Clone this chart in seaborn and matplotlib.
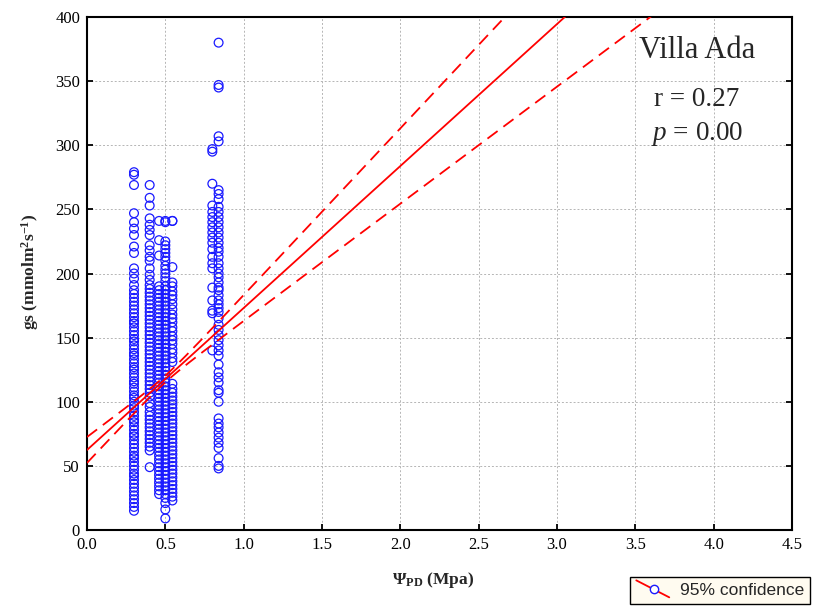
import numpy as np
import pandas as pd
import matplotlib
matplotlib.use("Agg")
import matplotlib.pyplot as plt
import seaborn as sns
from matplotlib.lines import Line2D
from matplotlib.legend_handler import HandlerBase

# Pre-dawn water potential groups (MPa) and stomatal conductance readings
psi_030 = [279, 277, 269, 247, 240, 235, 230, 221, 216, 204, 200, 196, 191, 187, 184,
           181, 178, 175, 172, 169, 166, 163, 161, 158, 155, 152, 149, 147, 144, 141,
           138, 136, 133, 130, 127, 125, 122, 119, 116, 114, 111, 108, 105, 103, 100,
           97, 95, 92, 89, 86, 84, 81, 78, 75, 73, 70, 67, 64, 61, 58, 56, 53, 50, 47,
           44, 42, 39, 36, 33, 30, 27, 24, 21, 18, 15]
psi_040 = [269, 259, 253, 243, 238, 234, 230, 222, 218, 213, 210, 204, 199, 195, 191,
           188, 185, 182, 179, 176, 173, 170, 167, 164, 161, 158, 155, 152, 149, 146,
           143, 140, 137, 134, 131, 128, 125, 122, 119, 116, 113, 110, 107, 104, 99,
           96, 92, 89, 86, 83, 80, 77, 74, 71, 68, 65, 62, 49]
psi_046 = [241, 226, 214, 190, 187, 184, 181, 178, 175, 172, 169, 166, 163, 160, 157,
           154, 151, 148, 145, 142, 139, 136, 133, 130, 127, 124, 121, 118, 115, 112,
           109, 106, 103, 100, 97, 94, 91, 88, 85, 82, 79, 76, 73, 70, 67, 64, 61, 58,
           55, 52, 49, 46, 43, 40, 37, 34, 31, 28]
psi_050 = [241, 240, 225, 222, 219, 216, 213, 210, 206, 203, 200, 197, 194, 190, 187,
           184, 181, 178, 175, 172, 169, 166, 163, 160, 157, 154, 151, 148, 145, 142,
           139, 136, 133, 130, 127, 124, 121, 118, 115, 112, 109, 106, 103, 100, 97, 94,
           91, 88, 85, 82, 79, 76, 73, 70, 67, 64, 61, 58, 55, 52, 49, 46, 43, 40, 37,
           34, 31, 28, 25, 21, 16, 9]
psi_055 = [241, 241, 205, 193, 190, 186, 183, 180, 176, 172, 168, 165, 162, 158, 155,
           151, 148, 145, 141, 138, 134, 131, 114, 110, 107, 104, 101, 98, 95, 92, 89,
           86, 83, 80, 77, 74, 71, 68, 65, 62, 59, 56, 53, 50, 47, 44, 41, 38, 35, 32,
           29, 26, 23]
psi_080 = [297, 295, 270, 253, 248, 244, 240, 236, 232, 228, 224, 219, 213, 208, 204,
           189, 179, 171, 169, 140]
psi_084 = [380, 347, 345, 307, 303, 265, 262, 258, 252, 248, 244, 240, 236, 232, 228,
           224, 220, 217, 213, 208, 204, 200, 197, 193, 189, 187, 183, 179, 176, 173,
           170, 165, 160, 156, 152, 148, 144, 140, 136, 129, 123, 119, 115, 109, 107,
           100, 87, 83, 80, 76, 72, 68, 64, 56, 50, 48]

groups = {0.30: psi_030, 0.40: psi_040, 0.46: psi_046, 0.50: psi_050,
          0.545: psi_055, 0.80: psi_080, 0.84: psi_084}

# Linear fit and its 95% confidence band
fit_intercept = 62.4
fit_slope = 110.7
fit_x_mean = 0.50
ci_at_mean = 2.6
ci_slope = 19.5

x_ticks = [0.0, 0.5, 1.0, 1.5, 2.0, 2.5, 3.0, 3.5, 4.0, 4.5]
y_ticks = [0, 50, 100, 150, 200, 250, 300, 350, 400]

df = pd.DataFrame([(x, g) for x, vals in groups.items() for g in vals],
                  columns=["psi", "gs"])

sns.set_style("white")
plt.rcParams["font.family"] = ["Liberation Serif", "DejaVu Serif"]
plt.rcParams["mathtext.fontset"] = "custom"
plt.rcParams["mathtext.rm"] = "Liberation Serif"
plt.rcParams["mathtext.it"] = "Liberation Serif:italic"
plt.rcParams["mathtext.bf"] = "Liberation Serif:bold"

fig = plt.figure(figsize=(8.14, 6.06), dpi=100)
ax = fig.add_axes([87 / 814, 76 / 606, 705 / 814, 513 / 606])

sns.scatterplot(data=df, x="psi", y="gs", ax=ax, marker="o", s=40,
                color="#1a1aff", linewidth=0.9, legend=False, zorder=3)
pts = ax.collections[0]
pts.set_facecolor("none")
pts.set_edgecolor("#1a1aff")

xs = np.linspace(0, 4.5, 300)
fit = fit_intercept + fit_slope * xs
half = np.sqrt(ci_at_mean ** 2 + (ci_slope * (xs - fit_x_mean)) ** 2)
sns.lineplot(x=xs, y=fit, ax=ax, color="red", linewidth=1.3, zorder=4)
sns.lineplot(x=xs, y=fit + half, ax=ax, color="red", linewidth=1.3,
             linestyle=(0, (7, 4)), zorder=4)
sns.lineplot(x=xs, y=fit - half, ax=ax, color="red", linewidth=1.3,
             linestyle=(0, (7, 4)), zorder=4)

ax.set_xlim(0, 4.5)
ax.set_ylim(0, 400)
ax.set_xticks(x_ticks)
ax.set_xticklabels([f"{t:.1f}" for t in x_ticks])
ax.set_yticks(y_ticks)
ax.set_xlabel("")
ax.set_ylabel("")
ax.grid(True, color="#b5b5b5", linestyle=(0, (2, 2)), linewidth=0.7)
ax.set_axisbelow(True)
ax.tick_params(axis="both", direction="in", length=4, width=1.3, labelsize=12,
               right=True, top=False, left=True, bottom=True, pad=5, colors="black")
for side in ax.spines.values():
    side.set_color("black")
    side.set_linewidth(1.5)

fig.text(433 / 814, 1 - 580 / 606, r"$\mathbf{\Psi_{PD}}$ (Mpa)", ha="center",
         va="center", fontsize=12.5, fontweight="bold")
fig.text(30 / 814, 1 - 272 / 606, r"gs (mmolm$^{\mathbf{2}}$s$^{\mathbf{-1}}$)",
         ha="center", va="center", rotation=90, fontsize=12.5, fontweight="bold")

fig.text(697 / 814, 1 - 50 / 606, "Villa Ada", ha="center", va="center", fontsize=22)
fig.text(697 / 814, 1 - 100 / 606, "r = 0.27", ha="center", va="center", fontsize=19.5)
fig.text(697 / 814, 1 - 134 / 606, r"$\it{p}$ = 0.00", ha="center", va="center",
         fontsize=19.5)


class ConfidenceHandle(HandlerBase):
    def create_artists(self, legend, orig_handle, xdescent, ydescent, width, height,
                       fontsize, trans):
        x0, y0 = -xdescent, -ydescent
        line = Line2D([x0, x0 + width], [y0 + height * 1.2, y0 - height * 0.2],
                      color="red", linewidth=1.3, transform=trans)
        dot = Line2D([x0 + width * 0.55], [y0 + height * 0.45], marker="o",
                     markersize=6, markerfacecolor="white", markeredgecolor="#1a1aff",
                     linestyle="none", transform=trans)
        return [line, dot]


handle = Line2D([], [], color="red")
leg = fig.legend([handle], ["95% confidence"], handler_map={Line2D: ConfidenceHandle()},
                 loc="lower right", bbox_to_anchor=(810 / 814, 2 / 606),
                 prop={"family": "Liberation Sans", "size": 12.5},
                 frameon=True, fancybox=False, framealpha=1, borderaxespad=0,
                 handlelength=1.9, handletextpad=0.6, borderpad=0.35)
leg.get_frame().set_facecolor("#fffbf0")
leg.get_frame().set_edgecolor("black")
leg.get_frame().set_linewidth(1.0)

fig.savefig("out.png", dpi=100)
